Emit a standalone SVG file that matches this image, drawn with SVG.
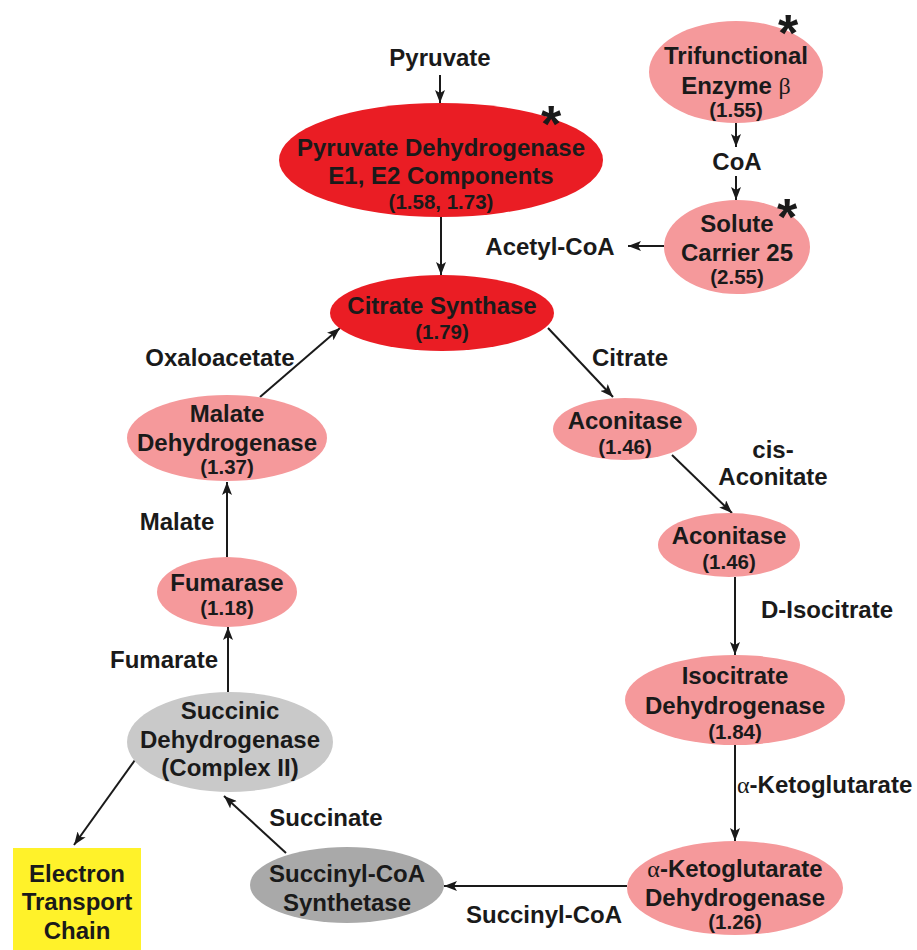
<svg xmlns="http://www.w3.org/2000/svg" width="917" height="950" viewBox="0 0 917 950">
<defs>
<marker id="arr" markerUnits="userSpaceOnUse" markerWidth="14" markerHeight="10" refX="13" refY="5" orient="auto">
<path d="M0,0 L13,5 L0,10 L3,5 z" fill="#1a1a1a"/>
</marker>
</defs>
<style>
text{font-family:"Liberation Sans",Arial,sans-serif;font-weight:bold;fill:#1a1a1a;text-anchor:middle}
.n{font-size:24px}
.v{font-size:20.5px}
.l{font-size:24px}
.star{font-size:52px}
.greek{font-family:"Liberation Serif","DejaVu Serif",serif;font-weight:normal}
.red{fill:#ea1d24}
.pink{fill:#f5999b}
.g1{fill:#c9c9c9}
.g2{fill:#a9a9a9}
.c{stroke:#1a1a1a;stroke-width:2;fill:none;marker-end:url(#arr)}
</style>
<rect width="917" height="950" fill="#fff"/>
<g id="connectors">
<line class="c" x1="440" y1="75" x2="440" y2="103"/>
<line class="c" x1="736" y1="123" x2="736" y2="147"/>
<line class="c" x1="736" y1="176" x2="736" y2="200"/>
<line class="c" x1="664" y1="246" x2="628" y2="246"/>
<line class="c" x1="441" y1="217" x2="441" y2="275"/>
<line class="c" x1="260" y1="397" x2="340" y2="328"/>
<line class="c" x1="548" y1="328" x2="613" y2="397"/>
<line class="c" x1="672" y1="455" x2="732" y2="513"/>
<line class="c" x1="735" y1="577" x2="735" y2="655"/>
<line class="c" x1="735" y1="745" x2="735" y2="841"/>
<line class="c" x1="627" y1="886" x2="444" y2="886"/>
<line class="c" x1="286" y1="853" x2="224" y2="796"/>
<line class="c" x1="135" y1="760" x2="74" y2="845"/>
<line class="c" x1="228" y1="692" x2="228" y2="627"/>
<line class="c" x1="227" y1="557" x2="227" y2="482"/>
</g>
<g id="labels">
<text class="l" x="440" y="66">Pyruvate</text>
<text class="l" x="737" y="170">CoA</text>
<text class="l" x="550" y="255">Acetyl-CoA</text>
<text class="l" x="220" y="366">Oxaloacetate</text>
<text class="l" x="630" y="366">Citrate</text>
<text class="l" x="773" y="458">cis-</text>
<text class="l" x="773" y="485">Aconitate</text>
<text class="l" x="827" y="618">D-Isocitrate</text>
<text class="l" x="737" y="793" style="text-anchor:start"><tspan class="greek">α</tspan>-Ketoglutarate</text>
<text class="l" x="544" y="923">Succinyl-CoA</text>
<text class="l" x="326" y="826">Succinate</text>
<text class="l" x="177" y="530">Malate</text>
<text class="l" x="164" y="668">Fumarate</text>
</g>
<g id="pdh">
<ellipse class="red" cx="441" cy="160" rx="162" ry="57"/>
<text class="n" x="441" y="156">Pyruvate Dehydrogenase</text>
<text class="n" x="441" y="184">E1, E2 Components</text>
<text class="v" x="441" y="209">(1.58, 1.73)</text>
<text class="star" x="551" y="142">*</text>
</g>
<g id="cs">
<ellipse class="red" cx="442" cy="313" rx="112" ry="38"/>
<text class="n" x="442" y="314">Citrate Synthase</text>
<text class="v" x="442" y="339">(1.79)</text>
</g>
<g id="tfe">
<ellipse class="pink" cx="736" cy="72" rx="87" ry="51"/>
<text class="n" x="736" y="64">Trifunctional</text>
<text class="n" x="736" y="94">Enzyme <tspan class="greek">β</tspan></text>
<text class="v" x="736" y="117">(1.55)</text>
<text class="star" x="788" y="51">*</text>
</g>
<g id="slc25">
<ellipse class="pink" cx="737" cy="247" rx="73" ry="47"/>
<text class="n" x="737" y="232">Solute</text>
<text class="n" x="737" y="261">Carrier 25</text>
<text class="v" x="737" y="284">(2.55)</text>
<text class="star" x="787" y="235">*</text>
</g>
<g id="mdh">
<ellipse class="pink" cx="227" cy="438" rx="100" ry="43"/>
<text class="n" x="227" y="422">Malate</text>
<text class="n" x="227" y="451">Dehydrogenase</text>
<text class="v" x="227" y="474">(1.37)</text>
</g>
<g id="fumarase">
<ellipse class="pink" cx="227" cy="592" rx="70" ry="35"/>
<text class="n" x="227" y="591">Fumarase</text>
<text class="v" x="227" y="615">(1.18)</text>
</g>
<g id="sdh">
<ellipse class="g1" cx="230" cy="742" rx="103" ry="50"/>
<text class="n" x="230" y="719">Succinic</text>
<text class="n" x="230" y="748">Dehydrogenase</text>
<text class="n" x="230" y="776">(Complex II)</text>
</g>
<g id="scs">
<ellipse class="g2" cx="347" cy="885" rx="97" ry="38"/>
<text class="n" x="347" y="882">Succinyl-CoA</text>
<text class="n" x="347" y="911">Synthetase</text>
</g>
<g id="etc">
<rect x="13" y="848" width="128" height="102" fill="#fff22a"/>
<text class="n" x="77" y="882">Electron</text>
<text class="n" x="77" y="910">Transport</text>
<text class="n" x="77" y="939">Chain</text>
</g>
<g id="akgdh">
<ellipse class="pink" cx="735" cy="888" rx="108" ry="47"/>
<text class="n" x="735" y="877"><tspan class="greek">α</tspan>-Ketoglutarate</text>
<text class="n" x="735" y="906">Dehydrogenase</text>
<text class="v" x="735" y="929">(1.26)</text>
</g>
<g id="idh">
<ellipse class="pink" cx="735" cy="700" rx="110" ry="45"/>
<text class="n" x="735" y="684">Isocitrate</text>
<text class="n" x="735" y="714">Dehydrogenase</text>
<text class="v" x="735" y="739">(1.84)</text>
</g>
<g id="aconitase2">
<ellipse class="pink" cx="729" cy="545" rx="71" ry="32"/>
<text class="n" x="729" y="544">Aconitase</text>
<text class="v" x="729" y="569">(1.46)</text>
</g>
<g id="aconitase1">
<ellipse class="pink" cx="625" cy="429" rx="72" ry="31"/>
<text class="n" x="625" y="429">Aconitase</text>
<text class="v" x="625" y="454">(1.46)</text>
</g>
</svg>
